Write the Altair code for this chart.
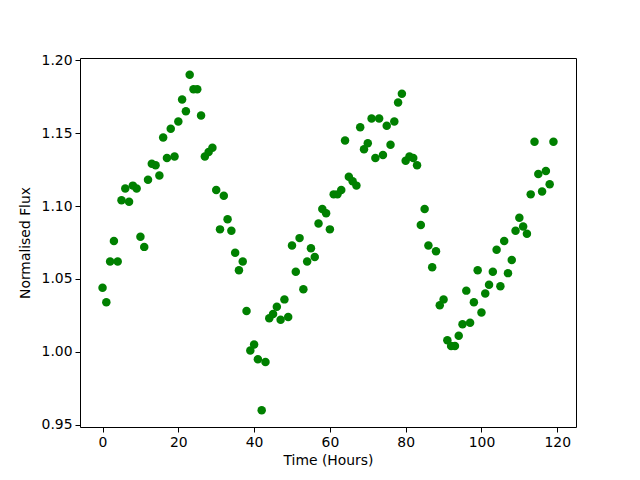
import altair as alt
import pandas as pd

hours = list(range(120))
flux = [
    1.044, 1.034, 1.062, 1.076, 1.062, 1.104, 1.112, 1.103, 1.114, 1.112,
    1.079, 1.072, 1.118, 1.129, 1.128, 1.121, 1.147, 1.133, 1.153, 1.134,
    1.158, 1.173, 1.165, 1.190, 1.180, 1.180, 1.162, 1.134, 1.137, 1.140,
    1.111, 1.084, 1.107, 1.091, 1.083, 1.068, 1.056, 1.062, 1.028, 1.001,
    1.005, 0.995, 0.960, 0.993, 1.023, 1.026, 1.031, 1.022, 1.036, 1.024,
    1.073, 1.055, 1.078, 1.043, 1.062, 1.071, 1.065, 1.088, 1.098, 1.095,
    1.084, 1.108, 1.108, 1.111, 1.145, 1.120, 1.117, 1.114, 1.154, 1.139,
    1.143, 1.160, 1.133, 1.160, 1.135, 1.155, 1.142, 1.158, 1.171, 1.177,
    1.131, 1.134, 1.133, 1.128, 1.087, 1.098, 1.073, 1.058, 1.069, 1.032,
    1.036, 1.008, 1.004, 1.004, 1.011, 1.019, 1.042, 1.020, 1.034, 1.056,
    1.027, 1.040, 1.046, 1.055, 1.070, 1.045, 1.076, 1.054, 1.063, 1.083,
    1.092, 1.086, 1.081, 1.108, 1.144, 1.122, 1.110, 1.124, 1.115, 1.144,
]
x_ticks = [0, 20, 40, 60, 80, 100, 120]
y_ticks = [0.95, 1.00, 1.05, 1.10, 1.15, 1.20]

df = pd.DataFrame({"hours": hours, "flux": flux})

axis_common = dict(
    labelFont="DejaVu Sans", titleFont="DejaVu Sans",
    labelFontSize=13.9, titleFontSize=13.9, titleFontWeight="normal",
    labelColor="black", titleColor="black",
    domain=False, ticks=True, tickColor="black", tickSize=5, tickWidth=1,
    grid=False, labelPadding=3,
)

chart = alt.Chart(df).mark_circle(size=72, color="#008000", opacity=1).encode(
    x=alt.X("hours:Q", title="Time (Hours)",
            scale=alt.Scale(domain=[-5.95, 124.95], nice=False, zero=False),
            axis=alt.Axis(values=x_ticks, format="d", titlePadding=5, **axis_common)),
    y=alt.Y("flux:Q", title="Normalised Flux",
            scale=alt.Scale(domain=[0.9485, 1.2015], nice=False, zero=False),
            axis=alt.Axis(values=y_ticks, format=".2f", titlePadding=9, **axis_common)),
).properties(
    width=496, height=369,
    autosize=alt.AutoSizeParams(type="none"),
    padding={"left": 72, "top": 50, "right": 56, "bottom": 45},
    background="white",
).configure_view(
    stroke="black", strokeWidth=1, fill="white"
)

chart.save("out.html", embed_options={"renderer": "svg", "actions": False})
